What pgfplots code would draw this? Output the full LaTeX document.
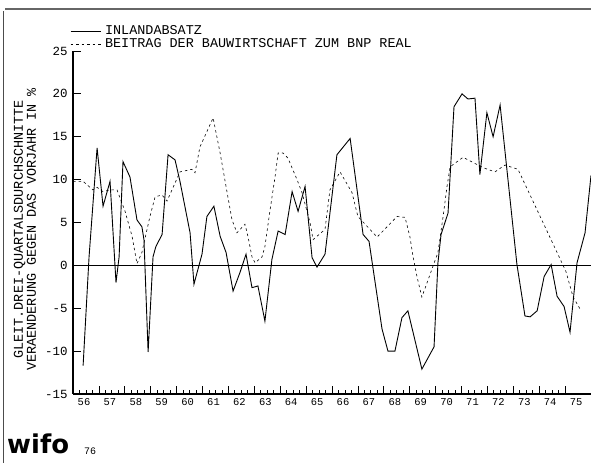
\documentclass[border=0pt]{standalone}
\usepackage{pgfplots}
\pgfplotsset{compat=1.18}
\usepackage{fontspec}
\setmainfont{Liberation Mono}
\newfontfamily\logofont{DejaVu Sans}

% Inlandabsatz, gleitende Drei-Quartalsdurchschnitte
\pgfplotstableread{
x y
56.39 -11.7
56.62 1.0
56.93 13.7
57.16 6.9
57.43 9.8
57.66 -2.0
57.78 1.0
57.93 12.1
58.20 10.3
58.47 5.3
58.66 4.5
58.74 3.0
58.90 -10.1
59.09 1.0
59.20 2.2
59.44 3.6
59.67 12.9
59.94 12.3
60.13 9.8
60.52 3.8
60.67 -2.2
60.98 1.3
61.17 5.7
61.44 6.9
61.68 3.4
61.91 1.5
62.18 -3.0
62.45 -0.8
62.68 1.3
62.91 -2.6
63.14 -2.4
63.41 -6.5
63.68 0.7
63.92 4.0
64.19 3.6
64.46 8.6
64.69 6.3
64.96 9.2
65.23 0.9
65.42 -0.2
65.73 1.3
66.19 12.9
66.70 14.8
67.20 3.6
67.43 2.8
67.93 -7.4
68.16 -10.0
68.43 -10.0
68.70 -6.1
68.93 -5.3
69.47 -12.1
69.94 -9.5
70.09 0.3
70.21 3.6
70.48 6.1
70.71 18.5
71.02 20.0
71.25 19.4
71.52 19.5
71.71 10.6
71.98 17.8
72.22 15.0
72.49 18.7
73.14 0.1
73.45 -5.9
73.65 -6.0
73.92 -5.3
74.19 -1.3
74.46 0.1
74.69 -3.6
74.96 -4.8
75.19 -7.8
75.46 0.3
75.77 3.8
76.00 10.5
}\inland

% Beitrag der Bauwirtschaft zum BNP real
\pgfplotstableread{
x y
56.00 9.8
56.39 9.8
56.77 8.8
56.93 9.1
57.16 8.6
57.43 8.8
57.70 8.8
58.01 6.3
58.28 3.4
58.47 0.2
58.66 1.5
58.97 5.7
59.17 8.0
59.44 8.2
59.63 7.5
60.13 10.9
60.59 11.2
60.71 10.8
60.90 13.8
61.41 17.2
61.68 13.1
61.95 8.5
62.14 5.3
62.33 3.8
62.64 4.8
62.76 3.3
62.91 1.0
63.03 0.3
63.30 1.0
63.41 2.2
63.61 6.5
63.80 10.3
63.92 13.1
64.11 13.1
64.30 12.5
64.65 10.0
64.84 8.5
65.15 5.0
65.27 3.0
65.73 4.2
65.92 8.8
66.31 10.9
66.77 8.5
67.00 5.7
67.74 3.3
68.51 5.7
68.82 5.6
69.01 3.3
69.13 1.0
69.28 -1.3
69.47 -3.7
70.09 1.5
70.29 5.7
70.44 9.2
70.56 11.5
71.06 12.6
71.83 11.4
72.29 10.9
72.68 11.7
73.18 11.2
74.69 1.5
75.03 -0.7
75.31 -3.7
75.58 -5.1
}\bau

\begin{document}
\begin{tikzpicture}[x=1bp,y=1bp]
\useasboundingbox (0,0) rectangle (591,463);
% Rahmen der Vorlage
\draw[black!60, line width=1.2bp] (5,454) -- (591,454);
\draw[black!70, line width=0.8bp] (3,0) -- (3,452);

\begin{axis}[
    at={(73bp,69bp)}, anchor=south west,
    scale only axis, width=518bp, height=343bp,
    xmin=56, xmax=76, ymin=-15, ymax=25,
    axis lines*=left,
    axis line style={line width=1.1bp},
    tick align=inside,
    tick style={black, line width=0.8bp},
    major tick length=8bp, minor tick length=4bp,
    xtick={56,...,75},
    xticklabels={56,57,58,59,60,61,62,63,64,65,66,67,68,69,70,71,72,73,74,75},
    minor x tick num=3,
    ytick={-15,-10,...,25},
    minor y tick num=0,
    /pgf/number format/assume math mode=true,
    x tick label style={font=\fontsize{10.5}{11}\selectfont, xshift=11bp, yshift=-1bp},
    y tick label style={font=\fontsize{12.5}{13}\selectfont, xshift=-2bp},
    ylabel={GLEIT.DREI-QUARTALSDURCHSCHNITTE\\VERAENDERUNG GEGEN DAS VORJAHR IN \%},
    ylabel style={at={(axis description cs:-0.0927,0.48)}, anchor=center,
        align=center, font=\fontsize{13.5}{13}\selectfont},
    legend style={at={(axis description cs:0,1)}, anchor=south west,
        draw=none, fill=none, inner sep=0pt, yshift=-0.5bp, xshift=-3bp,
        font=\fontsize{13.5}{13.5}\selectfont, row sep=-1.5bp,
        nodes={inner xsep=4bp}},
    legend cell align=left,
    legend image code/.code={\draw[#1] (0bp,0bp) -- (30bp,0bp);},
    clip=false,
]
\addplot[black, line width=0.9bp] table {\inland};
\addlegendentry{INLANDABSATZ}
\addplot[black, line width=0.6bp, dash pattern=on 2.5bp off 3bp] table {\bau};
\addlegendentry{BEITRAG DER BAUWIRTSCHAFT ZUM BNP REAL}
\addplot[black, line width=0.9bp, forget plot] coordinates {(56,0) (76,0)};
\end{axis}

\node[anchor=south west, inner sep=0pt, font=\logofont\bfseries\fontsize{26}{26}\selectfont]
    at (7,9) {wifo};
\node[anchor=south west, inner sep=0pt, font=\fontsize{10}{10}\selectfont] at (84,8) {76};
\end{tikzpicture}
\end{document}
